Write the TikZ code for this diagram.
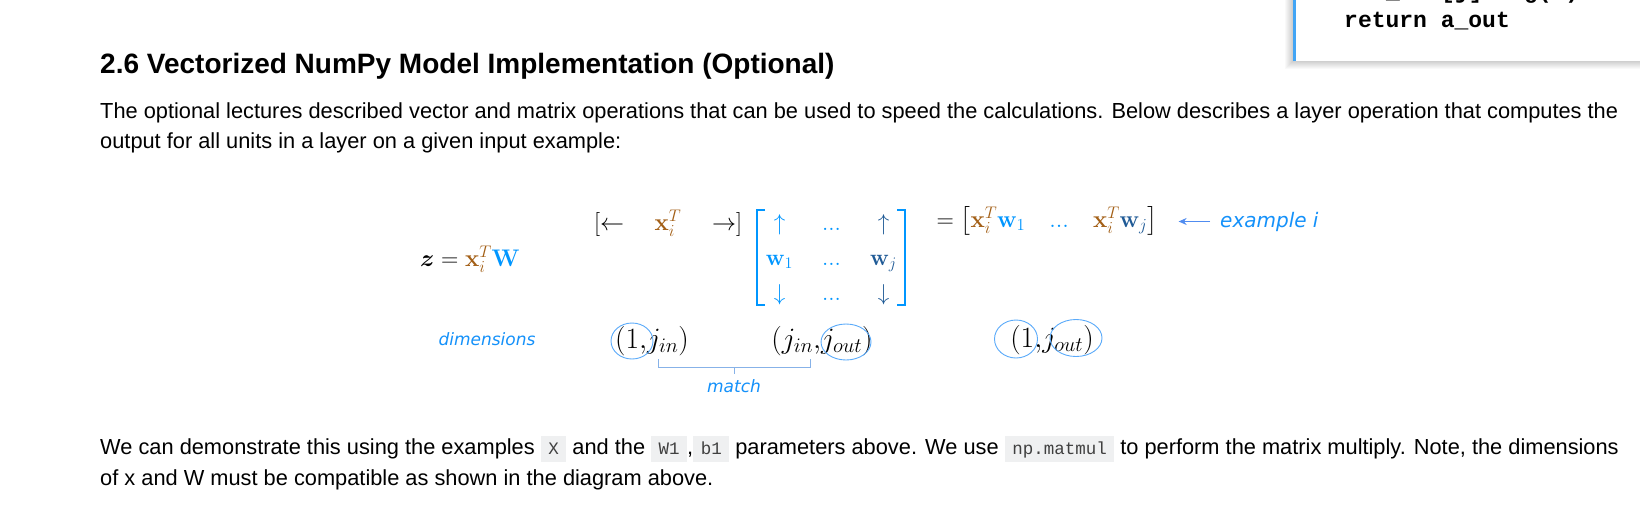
\RequirePackage{fix-cm}
\documentclass[tikz,border=0pt]{standalone}
\usepackage{amsmath,amssymb,bm}
\usepackage[no-math]{fontspec}
\newfontfamily\arialfont{Liberation Sans}
\newfontfamily\codefont{Liberation Mono}
\newfontfamily\notefont{DejaVu Sans}
\usetikzlibrary{arrows.meta,calc,matrix,positioning,shapes.geometric}
\definecolor{dlblue}{RGB}{0,150,255}
\definecolor{dldark}{RGB}{31,90,150}
\definecolor{xbrown}{RGB}{163,95,22}
\definecolor{ringblue}{RGB}{90,170,250}
\definecolor{bracecol}{RGB}{135,178,232}
\definecolor{arrowcol}{RGB}{80,140,240}
\definecolor{notecol}{RGB}{20,145,250}
\definecolor{codebg}{RGB}{239,240,241}
\definecolor{barblue}{RGB}{66,165,245}
\setlength{\fboxsep}{3.5pt}
\newcommand{\xvecT}{{\color{xbrown}\mathbf{x}_i^T}}
\newcommand{\codebit}[1]{\colorbox{codebg}{\hspace{4pt}\rule[-4pt]{0pt}{19pt}{\codefont\fontsize{17.5}{20}\selectfont\color{black!75}#1}\hspace{4pt}}}

\begin{document}
\begin{tikzpicture}[x=1pt,y=-1pt,
      every node/.style={inner sep=0pt},
      heading/.style={anchor=base west,font=\arialfont\bfseries\fontsize{28}{32}\selectfont},
      body/.style={anchor=base west,font=\arialfont\fontsize{21.8}{26}\selectfont},
      code/.style={anchor=base west,font=\codefont\bfseries\fontsize{23}{28}\selectfont},
      mth/.style={anchor=base,font=\fontsize{24}{28}\selectfont},
      dim/.style={anchor=base,font=\fontsize{29.5}{34}\selectfont},
      note/.style={anchor=base,text=notecol,font=\notefont\itshape\fontsize{17}{20}\selectfont},
      ring/.style={draw=ringblue,line width=.9pt,ellipse},
      mbrack/.style={draw=dlblue,line width=2.4pt},
      a/.style={-{Stealth[length=8pt,width=7pt]},draw=arrowcol,line width=1.2pt}]
  \useasboundingbox (0,0) rectangle (1640,507);
  \fill[white] (0,0) rectangle (1640,507);

  % code cell cut off at the top right
  \begin{scope}
    \clip (0,0) rectangle (1640,507);
    \foreach \k in {1,...,8}
      \fill[black,opacity=.025] (1293-\k,-20) rectangle (1660,61+\k);
    \fill[white] (1293,-20) rectangle (1660,61);
    \draw[barblue,line width=3pt] (1294.5,-20) -- (1294.5,61);
    \node[code] (zline) at (1372,-2) {a\_out[j] = g(z)};
    \node[code] (retline) at (1344,27) {return a\_out};
  \end{scope}

  \node[heading] (head) at (100,73) {2.6 Vectorized NumPy Model Implementation (Optional)};
  \node[body] (intro1) at (100,118) {The optional lectures described vector and matrix operations that can be used to speed the calculations. Below describes a layer operation that computes the};
  \node[body] (intro2) at (100,148) {output for all units in a layer on a given input example:};

  % the layer as one product
  \node[mth] (zeq) at (470,266) {$\bm{z} = \xvecT{\color{dlblue}\mathbf{W}}$};
  \node[mth] (xrow) at (668,230) {$[\leftarrow\quad\xvecT\quad\rightarrow]$};
  \matrix (wmat) [matrix of math nodes,column sep=22pt,row sep=12pt,
      nodes={text height=17pt,text depth=6pt,minimum width=30pt,anchor=center,font=\fontsize{23}{27}\selectfont},
      column 1/.style={nodes={text=dlblue}},column 2/.style={nodes={text=dlblue}},
      column 3/.style={nodes={text=dldark}}] at (831.5,260) {
    \uparrow & ... & \uparrow \\
    \mathbf{w}_1 & ... & \mathbf{w}_j \\
    \downarrow & ... & \downarrow \\
  };
  \draw[mbrack] (765,210) -| (757,305) -- (765,305);
  \draw[mbrack] (897,210) -| (905,305) -- (897,305);
  \node[mth] (res) at (1047,227) {$=\bigl[\xvecT{\color{dlblue}\mathbf{w}_1}\quad{\color{dlblue}...}\quad\xvecT{\color{dldark}\mathbf{w}_j}\bigr]$};
  \node[note,anchor=base west,font=\notefont\itshape\fontsize{20}{24}\selectfont] (exi) at (1220,227) {example i};
  \draw[a,shorten <=10pt,shorten >=21pt] (exi.west) -- (exi.west -| res.east);

  % dimensions
  \node[note] (dims) at (487,345) {dimensions};
  \node[dim] (xdim) at (652,348) {$(1{,}j_{in})$};
  \node[dim] (wdim) at (822,348) {$(j_{in}{,}j_{out})$};
  \node[dim] (zdim) at (1052,347) {$(1{,}j_{out})$};
  \node[ring,minimum width=42pt,minimum height=36pt] (ring1) at (632,341) {};
  \node[ring,minimum width=50pt,minimum height=36pt] (ring2) at (846,342) {};
  \node[ring,minimum width=43pt,minimum height=38pt] (ring3) at (1016,339) {};
  \node[ring,minimum width=52pt,minimum height=37pt] (ring4) at (1076,338) {};
  \coordinate (bl) at (658,359);
  \coordinate (br) at (810,359);
  \draw[bracecol,line width=.9pt] (bl) -- ++(0,8) -| (br);
  \node[note] (match) at (734,392) {match};
  \draw[bracecol,line width=.9pt] ($(bl)!.5!(br)+(0,8)$) -- ++(0,7);

  \node[body] (demo1) at (100,454) {We can demonstrate this using the examples \codebit{X} and the \codebit{W1},\codebit{b1} parameters above. We use \codebit{np.matmul} to perform the matrix multiply. Note, the dimensions};
  \node[body] (demo2) at (100,485) {of x and W must be compatible as shown in the diagram above.};
\end{tikzpicture}
\end{document}
